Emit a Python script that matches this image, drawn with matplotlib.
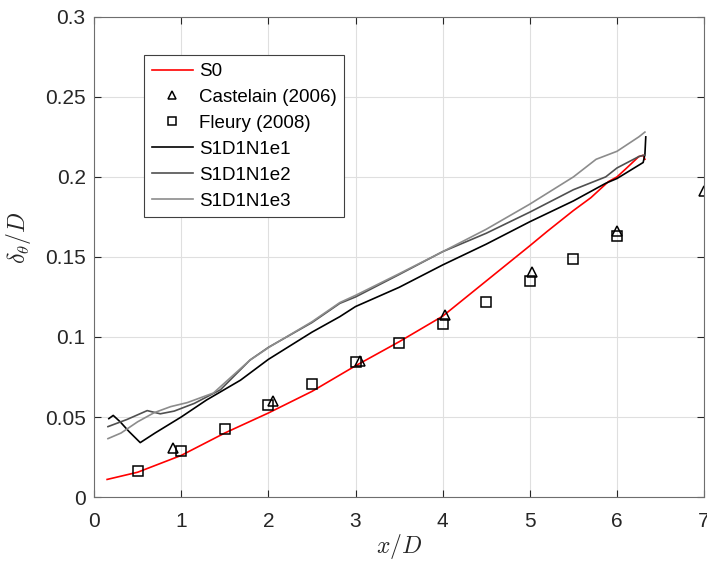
import matplotlib
matplotlib.use("Agg")
import matplotlib.pyplot as plt

# donnees
x_s0 = [0.15, 0.5, 1.0, 1.5, 2.0, 2.5, 3.0, 3.5, 4.0, 4.5, 5.0, 5.2, 5.5, 5.7, 5.9, 6.0, 6.1, 6.25, 6.3, 6.32]
y_s0 = [0.011, 0.0155, 0.026, 0.040, 0.0525, 0.066, 0.082, 0.097, 0.113, 0.135, 0.157, 0.166, 0.179, 0.187, 0.197, 0.200, 0.205, 0.2127, 0.2135, 0.211]

x_cast = [0.905, 2.05, 3.05, 4.03, 5.02, 6.0, 7.0]
y_cast = [0.0306, 0.060, 0.085, 0.114, 0.1406, 0.166, 0.191]

x_fleury = [0.5, 1.0, 1.5, 2.0, 2.5, 3.0, 3.5, 4.0, 4.5, 5.0, 5.5, 6.0]
y_fleury = [0.016, 0.0285, 0.0425, 0.0575, 0.0706, 0.0844, 0.096, 0.108, 0.122, 0.135, 0.149, 0.163]

x_e1 = [0.17, 0.22, 0.3, 0.4, 0.53, 0.7, 1.0, 1.29, 1.68, 2.0, 2.5, 2.82, 3.0, 3.5, 4.0, 4.5, 5.0, 5.5, 5.87, 6.0, 6.3, 6.32, 6.33]
y_e1 = [0.049, 0.051, 0.047, 0.041, 0.034, 0.040, 0.050, 0.0606, 0.073, 0.086, 0.103, 0.1127, 0.119, 0.131, 0.145, 0.158, 0.172, 0.185, 0.196, 0.199, 0.209, 0.214, 0.225]

x_e2 = [0.16, 0.38, 0.61, 0.76, 0.92, 1.15, 1.45, 1.79, 2.0, 2.5, 2.82, 3.0, 3.5, 4.0, 4.5, 5.0, 5.5, 5.87, 6.0, 6.25, 6.32]
y_e2 = [0.044, 0.0485, 0.054, 0.052, 0.0537, 0.0585, 0.067, 0.0856, 0.0935, 0.109, 0.121, 0.125, 0.139, 0.1533, 0.1648, 0.178, 0.192, 0.200, 0.2056, 0.2127, 0.2137]

x_e3 = [0.16, 0.31, 0.5, 0.69, 0.88, 1.07, 1.37, 1.79, 2.02, 2.5, 2.82, 3.0, 3.5, 4.0, 4.5, 5.0, 5.5, 5.76, 6.0, 6.25, 6.32]
y_e3 = [0.0365, 0.040, 0.047, 0.0527, 0.0565, 0.059, 0.065, 0.0856, 0.094, 0.1095, 0.1215, 0.126, 0.1395, 0.1533, 0.1673, 0.183, 0.200, 0.211, 0.216, 0.225, 0.228]

plt.rcParams['font.family'] = ['Liberation Sans', 'DejaVu Sans']
plt.rcParams['mathtext.fontset'] = 'cm'

gris = '#262626'
fig = plt.figure(figsize=(7.07, 5.61), dpi=100)
ax = fig.add_axes([0.133, 0.114, 0.863, 0.856])

ax.plot(x_s0, y_s0, '-', color='red', lw=1.2, label='S0')
ax.plot(x_cast, y_cast, '^', mfc='none', mec='k', ms=7, mew=1.1, ls='none', label='Castelain (2006)')
ax.plot(x_fleury, y_fleury, 's', mfc='none', mec='k', ms=6.5, mew=1.1, ls='none', label='Fleury (2008)')
ax.plot(x_e1, y_e1, '-', color='black', lw=1.2, label='S1D1N1e1')
ax.plot(x_e2, y_e2, '-', color='#505050', lw=1.2, label='S1D1N1e2')
ax.plot(x_e3, y_e3, '-', color='#8c8c8c', lw=1.2, label='S1D1N1e3')

ax.set_xlim(0, 7)
ax.set_ylim(0, 0.3)
ax.set_xticks(range(8))
ax.set_yticks([0, 0.05, 0.1, 0.15, 0.2, 0.25, 0.3])
ax.set_yticklabels(['0', '0.05', '0.1', '0.15', '0.2', '0.25', '0.3'])
ax.grid(True, color='#dfdfdf', lw=0.8)
ax.set_axisbelow(True)
ax.tick_params(direction='in', length=5, top=True, right=True, labelsize=15,
               colors=gris, width=0.8)
ax.tick_params(axis='x', pad=10.5)
ax.tick_params(axis='y', pad=6)
for s in ax.spines.values():
    s.set_color('#6e6e6e')
    s.set_linewidth(0.8)

ax.set_xlabel(r'$x/D$', fontsize=17, color=gris, labelpad=1)
ax.set_ylabel(r'$\delta_\theta/D$', fontsize=17, color=gris)
ax.yaxis.set_label_coords(-0.1, 0.54)

leg = ax.legend(loc='upper left', bbox_to_anchor=(0.067, 0.939), fontsize=13.5,
                frameon=True, fancybox=False, framealpha=1, edgecolor='#404040',
                handlelength=2.2, handletextpad=0.3, labelspacing=0.47,
                borderpad=0.4, markerscale=0.8)
leg.get_frame().set_linewidth(0.8)

plt.savefig('out.png', dpi=100)
